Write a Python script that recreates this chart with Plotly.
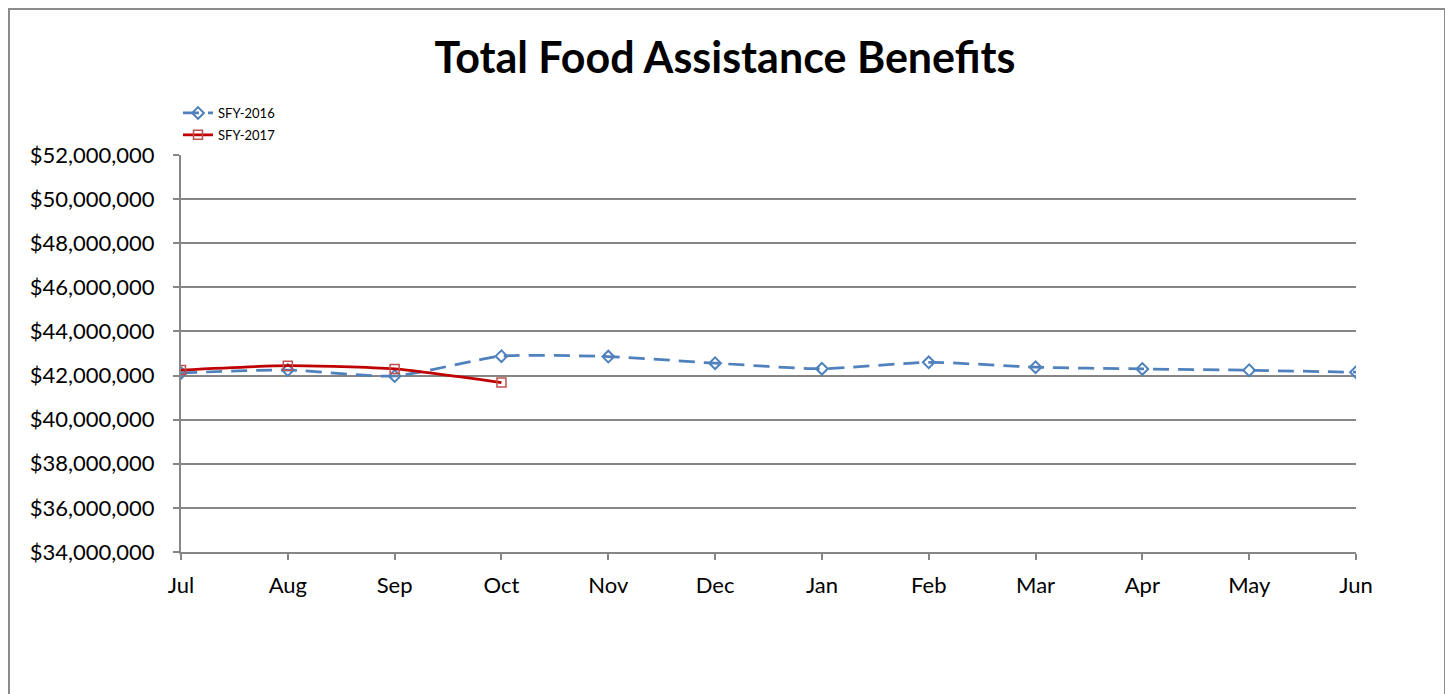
import plotly.graph_objects as go

months = ["Jul", "Aug", "Sep", "Oct", "Nov", "Dec", "Jan", "Feb", "Mar", "Apr", "May", "Jun"]
sfy2016 = [42120000, 42250000, 41980000, 42880000, 42860000, 42560000, 42310000, 42600000, 42380000, 42300000, 42240000, 42150000]
sfy2017 = [42250000, 42450000, 42300000, 41680000]
y_ticks = [34000000, 36000000, 38000000, 40000000, 42000000, 44000000, 46000000, 48000000, 50000000, 52000000]
y_labels = ["${:,}".format(v) for v in y_ticks]

FONT = "Lato"
fig = go.Figure()
fig.add_trace(go.Scatter(
    x=list(range(len(sfy2016))), y=sfy2016, name="SFY-2016", mode="lines+markers",
    legendgroup="a",
    line=dict(color="#4F81BD", width=2.75, dash="16px,9px", shape="spline", smoothing=0.6),
    marker=dict(symbol="diamond-open", size=9, color="#4F81BD", line=dict(width=2)),
))
fig.add_trace(go.Scatter(
    x=list(range(len(sfy2017))), y=sfy2017, name="SFY-2017", mode="lines+markers",
    legendgroup="b",
    line=dict(color="#C00000", width=2.75, shape="spline", smoothing=0.6),
    marker=dict(symbol="square-open", size=9, color="#C0504D", line=dict(width=1.5)),
))

# figure is drawn with an 8px page offset; coordinates below are figure coords
L, R, T, B = 173, 105, 147, 150
W, H = 1453, 694
pw, ph = W - L - R, H - T - B

def px(x):
    return (x - L) / pw

def py(y):
    return (H - B - y) / ph

fig.update_layout(
    width=W, height=H,
    margin=dict(l=L, r=R, t=T, b=B),
    paper_bgcolor="white", plot_bgcolor="white",
    font=dict(family=FONT, color="black"),
    title=dict(text="<b>Total Food Assistance Benefits</b>", x=717 / W, xref="container",
               xanchor="center", y=1 - 50 / H, yref="container", yanchor="middle",
               font=dict(size=43, family=FONT, color="black")),
    showlegend=True,
    legend=dict(x=px(170), y=py(90), xanchor="left", yanchor="top",
                font=dict(size=13, family=FONT), bgcolor="rgba(0,0,0,0)",
                tracegroupgap=2, itemwidth=30),
    shapes=[dict(type="rect", xref="paper", yref="paper",
                 x0=px(1), x1=px(1437), y0=py(700), y1=py(1),
                 line=dict(color="#8C8C8C", width=2), fillcolor="rgba(0,0,0,0)", layer="below")],
)
fig.update_xaxes(
    range=[0, len(months) - 1], tickmode="array", tickvals=list(range(len(months))),
    ticktext=months, showgrid=False, showline=True, linecolor="#868686", linewidth=2,
    ticks="outside", ticklen=6, tickcolor="#868686", tickwidth=2,
    tickfont=dict(size=22, family=FONT), ticklabelstandoff=7, zeroline=False,
)
fig.update_yaxes(
    range=[34000000, 52000000], tickmode="array", tickvals=y_ticks, ticktext=y_labels,
    showgrid=True, gridcolor="#868686", gridwidth=1.5, showline=True, linecolor="#868686",
    linewidth=2, ticks="outside", ticklen=6, tickcolor="#868686", tickwidth=2,
    tickfont=dict(size=22, family=FONT), ticklabelstandoff=14, zeroline=False,
)
fig.write_html("out.html")
